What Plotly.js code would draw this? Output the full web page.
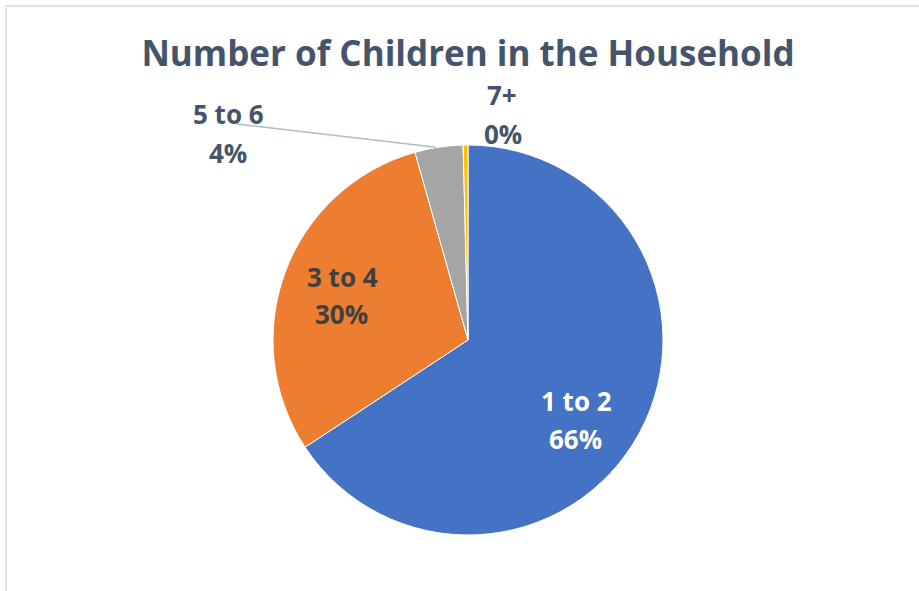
<!DOCTYPE html>
<html>
<head>
<meta charset="utf-8">
<script src="https://cdn.plot.ly/plotly-3.0.1.min.js"></script>
<style>html,body{margin:0;padding:0;background:#fff;}#chart{width:919px;height:591px;}</style>
</head>
<body>
<div id="chart"></div>
<script>
// ---- data ----
const categories = ["1 to 2", "3 to 4", "5 to 6", "7+"];
const counts = [165, 75, 10, 1];
const sliceColors = ["#4472C4", "#ED7D31", "#A5A5A5", "#FFC000"];
const labelColors = ["#FFFFFF", "#404040", "#44546A", "#44546A"];

// ---- layout geometry (pixels) ----
const W = 919, H = 591;
const cx = 468, cy = 340, r = 195;
// label block centers (name line / percent line) in px
const labelPos = [
  { x1: 576, y1: 401, x2: 575, y2: 439 },
  { x1: 342, y1: 277, x2: 341, y2: 314 },
  { x1: 228, y1: 114, x2: 228, y2: 153 },
  { x1: 502, y1: 95,  x2: 503, y2: 134 }
];
const FONT = "'Open Sans', Lato, sans-serif";

const total = counts.reduce((a, b) => a + b, 0);
const pct = counts.map(v => Math.round(100 * v / total) + "%");

const trace = {
  type: "pie",
  labels: categories,
  values: counts,
  sort: false,
  direction: "clockwise",
  rotation: 0,
  textinfo: "none",
  marker: { colors: sliceColors, line: { color: "#FFFFFF", width: 1 } },
  hoverinfo: "label+percent",
  showlegend: false,
  automargin: false,
  domain: { x: [(cx - r) / W, (cx + r) / W], y: [1 - (cy + r) / H, 1 - (cy - r) / H] }
};

const px = x => x / W, py = y => 1 - y / H;
const annotations = [];
categories.forEach((c, i) => {
  const p = labelPos[i];
  const f = { family: FONT, size: 26, color: labelColors[i], weight: "bold" };
  annotations.push({ text: "<b>" + c + "</b>", x: px(p.x1), y: py(p.y1), xref: "paper", yref: "paper",
    xanchor: "center", yanchor: "middle", showarrow: false, font: f });
  annotations.push({ text: "<b>" + pct[i] + "</b>", x: px(p.x2), y: py(p.y2), xref: "paper", yref: "paper",
    xanchor: "center", yanchor: "middle", showarrow: false, font: f });
});

// leader line for "5 to 6": from label to the middle of its slice's arc
let cum = 0;
const midAngles = counts.map(v => { const m = (cum + v / 2) / total * 2 * Math.PI; cum += v; return m; });
const tipX = cx + r * Math.sin(midAngles[2]);
const tipY = cy - r * Math.cos(midAngles[2]);

const layout = {
  width: W, height: H,
  margin: { l: 0, r: 0, t: 0, b: 0 },
  paper_bgcolor: "#FFFFFF",
  title: {
    text: "<b>Number of Children in the Household</b>",
    font: { family: FONT, size: 35, color: "#44546A" },
    x: px(468), xanchor: "center", y: py(54), yanchor: "middle"
  },
  annotations: annotations,
  shapes: [
    { type: "rect", xref: "paper", yref: "paper",
      x0: px(6), x1: 1.05, y0: -0.05, y1: py(6),
      line: { color: "#D9D9D9", width: 1.5 }, fillcolor: "rgba(0,0,0,0)", layer: "below" },
    { type: "line", xref: "paper", yref: "paper",
      x0: px(237), y0: py(124), x1: px(tipX - 3), y1: py(tipY),
      line: { color: "#AEB9C9", width: 1.5 } }
  ]
};

Plotly.newPlot("chart", [trace], layout, { displayModeBar: false, staticPlot: true });
</script>
</body>
</html>
